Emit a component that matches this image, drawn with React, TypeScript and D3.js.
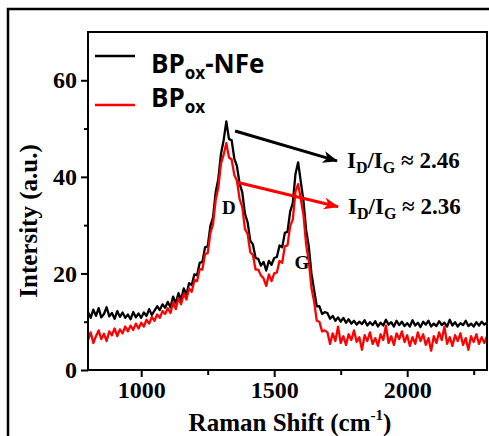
import React, { useEffect, useRef } from 'react';
import * as d3 from 'd3';

// Raman shift grid (cm-1), one reading every 10 cm-1
const shifts = d3.range(800, 2301, 10);

// BPox-NFe intensity (a.u.)
const bpoxNfe = [
  12.0, 10.8, 12.5, 11.2, 12.8, 10.9, 11.6, 13.0, 11.1, 11.8,
  10.6, 12.2, 11.0, 11.9, 10.8, 11.5, 10.5, 12.0, 10.9, 11.7,
  10.8, 11.9, 11.2, 12.6, 11.4, 12.3, 13.2, 12.4, 13.6, 12.9,
  14.1, 13.0, 15.2, 13.8, 15.9, 14.6, 16.9, 15.6, 18.0, 17.6,
  19.8, 19.6, 22.2, 22.4, 25.4, 25.6, 29.8, 31.6, 36.8, 39.6,
  44.8, 47.6, 51.5, 47.8, 47.6, 43.8, 42.2, 38.6, 36.8, 32.4,
  30.6, 26.8, 26.0, 23.2, 23.0, 21.6, 22.4, 20.6, 22.6, 21.8,
  23.2, 23.4, 25.8, 25.4, 28.4, 28.6, 32.8, 34.6, 40.6, 43.0,
  39.0, 35.0, 29.0, 25.6, 20.0, 16.6, 13.2, 13.2, 11.6, 12.0,
  11.8, 10.6, 11.2, 10.2, 10.9, 10.0, 10.8, 9.8, 10.5, 9.6,
  10.2, 9.4, 10.0, 9.5, 10.3, 9.2, 9.9, 9.3, 10.1, 9.0,
  9.8, 9.2, 10.4, 9.4, 9.9, 9.0, 10.2, 9.3, 10.0, 9.1,
  9.7, 9.0, 10.3, 9.2, 9.8, 8.9, 10.0, 9.4, 10.2, 9.0,
  9.6, 9.1, 10.1, 9.3, 9.8, 9.0, 10.4, 9.2, 9.9, 9.0,
  9.7, 9.3, 10.2, 9.1, 9.6, 9.0, 9.9, 9.2, 10.0, 9.4,
  9.8,
];

// BPox intensity (a.u.)
const bpox = [
  6.2, 7.8, 5.6, 7.0, 8.2, 6.4, 7.5, 6.0, 8.0, 7.2,
  8.6, 7.0, 8.4, 7.6, 9.0, 8.0, 9.2, 8.3, 9.6, 8.6,
  9.8, 9.0, 10.4, 9.6, 11.0, 10.2, 11.5, 10.8, 12.2, 11.6,
  12.8, 11.8, 14.0, 12.6, 14.9, 13.6, 15.8, 14.6, 16.9, 16.2,
  18.6, 18.4, 20.9, 20.8, 24.0, 24.2, 28.3, 30.2, 35.2, 37.8,
  42.8, 44.6, 47.0, 44.0, 43.6, 40.4, 39.2, 35.4, 33.8, 29.2,
  28.2, 24.4, 23.8, 20.8, 20.8, 19.6, 19.0, 17.4, 19.8, 18.4,
  20.0, 20.2, 22.6, 22.2, 25.6, 25.8, 29.8, 31.2, 37.0, 38.5,
  35.4, 32.2, 26.0, 22.6, 17.0, 14.2, 10.2, 10.0, 8.0, 8.2,
  7.8, 5.4, 7.6, 6.0, 9.0, 5.6, 7.0, 5.2, 7.4, 6.2,
  8.2, 5.8, 6.8, 4.2, 7.2, 6.0, 7.8, 5.4, 6.6, 5.0,
  7.4, 6.2, 9.2, 5.6, 7.0, 5.2, 7.6, 6.4, 8.0, 5.8,
  7.2, 5.0, 6.8, 5.4, 7.8, 6.0, 7.4, 5.2, 6.6, 4.0,
  7.0, 5.6, 7.8, 6.2, 9.0, 5.4, 6.8, 5.0, 7.2, 6.0,
  7.6, 5.2, 6.6, 4.2, 7.0, 5.8, 7.4, 5.4, 6.8, 5.6,
  7.0,
];

const xTicks = [1000, 1500, 2000];
const xMinorTicks = [1250, 1750, 2250];
const yTicks = [0, 20, 40, 60];
const yMinorTicks = [10, 30, 50];
const ratios = ['2.46', '2.36'];
// arrow [x0, y0, x1, y1] in data units
const arrows = [
  [1353, 49.5, 1736, 43.3],
  [1360, 38.9, 1740, 33.8],
];
const seriesColors = ['#000000', '#ff0000'];

export default function App() {
  const ref = useRef<HTMLDivElement>(null);

  useEffect(() => {
    draw();
    // eslint-disable-next-line react-hooks/exhaustive-deps
  }, []);

  function draw() {
    const width = 489;
    const height = 436;
    const margin = { top: 32, right: 2, bottom: 66, left: 88 };
    const innerWidth = width - margin.left - margin.right;
    const innerHeight = height - margin.top - margin.bottom;
    const serif = '"Liberation Serif", "Times New Roman", serif';
    const sans = '"Open Sans", "Noto Sans", sans-serif';

    d3.select(ref.current).select('svg').remove();
    const svg = d3
      .select(ref.current)
      .append('svg')
      .attr('width', width)
      .attr('height', height)
      .style('position', 'absolute')
      .style('left', 0)
      .style('top', 0)
      .style('background', '#fff');

    // outer frame of the figure panel
    svg
      .append('rect')
      .attr('x', 8)
      .attr('y', 9)
      .attr('width', 500)
      .attr('height', 450)
      .attr('fill', 'none')
      .attr('stroke', '#000')
      .attr('stroke-width', 2.5);

    const defs = svg.append('defs');
    defs
      .append('clipPath')
      .attr('id', 'plot-clip')
      .append('rect')
      .attr('width', innerWidth)
      .attr('height', innerHeight);
    seriesColors.forEach((c, i) => {
      defs
        .append('marker')
        .attr('id', `arrow-${i}`)
        .attr('markerUnits', 'userSpaceOnUse')
        .attr('markerWidth', 16)
        .attr('markerHeight', 14)
        .attr('refX', 14)
        .attr('refY', 6)
        .attr('orient', 'auto')
        .append('path')
        .attr('d', 'M0,0 L15,6 L0,12 L4,6 Z')
        .attr('fill', c);
    });

    const g = svg.append('g').attr('transform', `translate(${margin.left},${margin.top})`);

    const xScale = d3.scaleLinear().domain([800, 2300]).range([0, innerWidth]);
    const yScale = d3.scaleLinear().domain([0, 70]).range([innerHeight, 0]);

    const line = d3
      .line<number>()
      .x((_, i) => xScale(shifts[i]))
      .y((d) => yScale(d));

    const plot = g.append('g').attr('clip-path', 'url(#plot-clip)');
    [bpoxNfe, bpox].forEach((series, i) => {
      plot
        .append('path')
        .datum(series)
        .attr('d', line)
        .attr('fill', 'none')
        .attr('stroke', seriesColors[i])
        .attr('stroke-width', 2.3)
        .attr('stroke-linejoin', 'round');
    });

    // axes
    const styleAxis = (sel: any) => {
      sel.select('.domain').remove();
      sel.selectAll('line').attr('stroke', '#000').attr('stroke-width', 2);
      sel
        .selectAll('text')
        .attr('font-family', serif)
        .attr('font-weight', 'bold')
        .attr('font-size', 24)
        .attr('fill', '#000');
    };
    g.append('g')
      .attr('transform', `translate(0,${innerHeight})`)
      .call(d3.axisBottom(xScale).tickValues(xTicks).tickSize(7).tickPadding(4).tickFormat(d3.format('d')))
      .call(styleAxis);
    g.append('g')
      .attr('transform', `translate(0,${innerHeight})`)
      .call(d3.axisBottom(xScale).tickValues(xMinorTicks).tickSize(5).tickFormat(() => ''))
      .call(styleAxis);
    g.append('g')
      .call(d3.axisLeft(yScale).tickValues(yTicks).tickSize(7).tickPadding(4).tickFormat(d3.format('d')))
      .call(styleAxis);
    g.append('g')
      .call(d3.axisLeft(yScale).tickValues(yMinorTicks).tickSize(4).tickFormat(() => ''))
      .call(styleAxis);

    g.append('rect')
      .attr('width', innerWidth)
      .attr('height', innerHeight)
      .attr('fill', 'none')
      .attr('stroke', '#000')
      .attr('stroke-width', 2);

    // axis titles
    const xTitle = svg
      .append('text')
      .attr('x', 290)
      .attr('y', 431)
      .attr('text-anchor', 'middle')
      .attr('font-family', serif)
      .attr('font-weight', 'bold')
      .attr('font-size', 25);
    xTitle.append('tspan').text('Raman Shift (cm');
    xTitle.append('tspan').attr('font-size', 15).attr('dy', -11).text('-1');
    xTitle.append('tspan').attr('dy', 11).text(')');

    svg
      .append('text')
      .attr('transform', 'translate(37,221) rotate(-90)')
      .attr('text-anchor', 'middle')
      .attr('font-family', serif)
      .attr('font-weight', 'bold')
      .attr('font-size', 25)
      .text('Intersity (a.u.)');

    // peak labels
    [
      ['D', 1330, 33.7],
      ['G', 1604, 22.2],
    ].forEach(([t, x, y]) => {
      g.append('text')
        .attr('x', xScale(x as number))
        .attr('y', yScale(y as number))
        .attr('text-anchor', 'middle')
        .attr('dominant-baseline', 'central')
        .attr('font-family', serif)
        .attr('font-weight', 'bold')
        .attr('font-size', 19)
        .text(t as string);
    });

    // arrows and ratios
    arrows.forEach((a, i) => {
      g.append('line')
        .attr('x1', xScale(a[0]))
        .attr('y1', yScale(a[1]))
        .attr('x2', xScale(a[2]))
        .attr('y2', yScale(a[3]))
        .attr('stroke', seriesColors[i])
        .attr('stroke-width', 3)
        .attr('marker-end', `url(#arrow-${i})`);
      const t = g
        .append('text')
        .attr('x', xScale(a[2]) + 10)
        .attr('y', yScale(a[3]) + 7)
        .attr('font-family', serif)
        .attr('font-weight', 'bold')
        .attr('font-size', 23);
      t.append('tspan').text('I');
      t.append('tspan').attr('font-size', 16).attr('dy', 5).text('D');
      t.append('tspan').attr('dy', -5).text('/I');
      t.append('tspan').attr('font-size', 16).attr('dy', 5).text('G');
      t.append('tspan').attr('dy', -5).text(` \u2248 ${ratios[i]}`);
    });

    // legend
    const legend = svg.append('g');
    const legendRows = [
      { suffix: '-NFe', lineY: 56, textY: 73 },
      { suffix: '', lineY: 105, textY: 107 },
    ];
    legendRows.forEach((row, i) => {
      legend
        .append('line')
        .attr('x1', 95)
        .attr('x2', 135)
        .attr('y1', row.lineY)
        .attr('y2', row.lineY)
        .attr('stroke', seriesColors[i])
        .attr('stroke-width', 2.5);
      const t = legend
        .append('text')
        .attr('x', 151)
        .attr('y', row.textY)
        .attr('font-family', sans)
        .attr('font-weight', 'bold')
        .attr('font-size', 26);
      t.append('tspan').text('BP');
      t.append('tspan').attr('font-size', 17).attr('dy', 6).text('ox');
      if (row.suffix) t.append('tspan').attr('dy', -6).text(row.suffix);
    });
  }

  return <div className='chart' ref={ref}></div>;
}
